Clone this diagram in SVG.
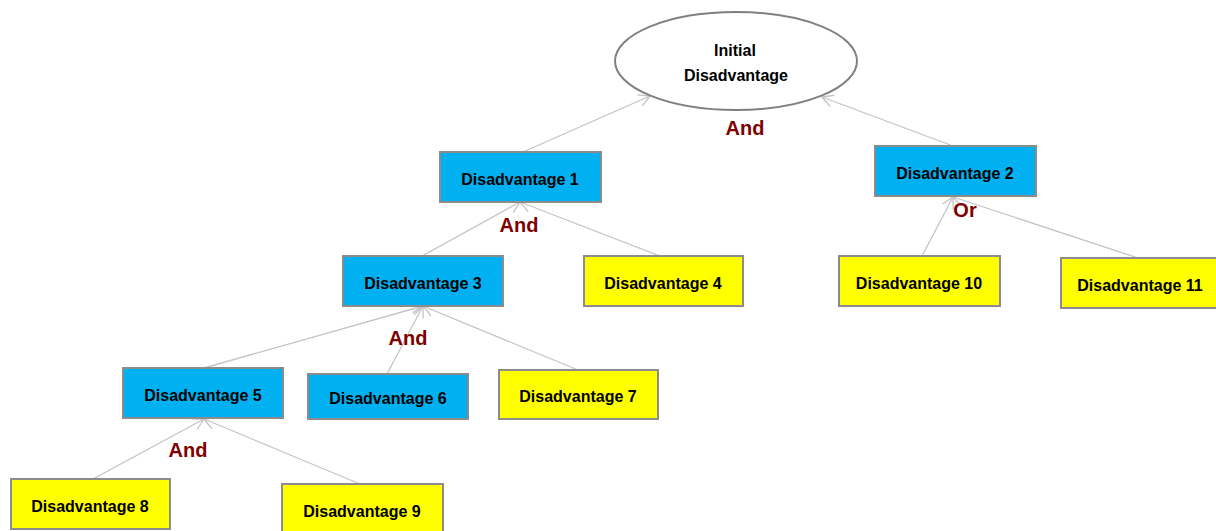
<svg xmlns="http://www.w3.org/2000/svg" width="1216" height="531" viewBox="0 0 1216 531">
<style>
  .blue{fill:#00B0F0;stroke:#8C8C8C;stroke-width:2}
  .yellow{fill:#FFFF00;stroke:#8C8C8C;stroke-width:2}
  .oval{fill:#FFFFFF;stroke:#808080;stroke-width:2}
  .t{font-family:"Liberation Sans",Arial,sans-serif;font-weight:bold;font-size:16px;fill:#000;text-anchor:middle}
  .op{font-family:"Liberation Sans",Arial,sans-serif;font-weight:bold;font-size:20px;fill:#7F0000;text-anchor:middle}
  .c{stroke:#C4C4C4;stroke-width:1.3;fill:none;marker-end:url(#arr)}
</style>
<defs>
  <marker id="arr" markerUnits="userSpaceOnUse" viewBox="-13 -7 14 14" markerWidth="14" markerHeight="14" refX="0" refY="0" orient="auto">
    <path d="M-11,-6 L0,0 L-11,6" fill="none" stroke="#C4C4C4" stroke-width="1.3"/>
  </marker>
</defs>
<rect width="1216" height="531" fill="#FFFFFF"/>
<g id="connectors">
  <line class="c" x1="523" y1="152" x2="650" y2="96"/>
  <line class="c" x1="953" y1="146" x2="822" y2="97"/>
  <line class="c" x1="422" y1="256" x2="520" y2="202"/>
  <line class="c" x1="660" y1="256" x2="520" y2="202"/>
  <line class="c" x1="922" y1="256" x2="953" y2="197"/>
  <line class="c" x1="1138" y1="258" x2="953" y2="197"/>
  <line class="c" x1="204" y1="368" x2="423" y2="306"/>
  <line class="c" x1="387" y1="374" x2="423" y2="306"/>
  <line class="c" x1="578" y1="370" x2="423" y2="306"/>
  <line class="c" x1="93" y1="479" x2="204" y2="419"/>
  <line class="c" x1="360" y1="484" x2="204" y2="419"/>
</g>
<g id="initial">
  <ellipse class="oval" cx="736" cy="61" rx="121" ry="49"/>
  <text class="t" x="735" y="56">Initial</text>
  <text class="t" x="736" y="81">Disadvantage</text>
</g>
<g id="d1"><rect class="blue" x="440" y="152" width="161" height="50"/><text class="t" x="520" y="185">Disadvantage 1</text></g>
<g id="d2"><rect class="blue" x="875" y="146" width="161" height="50"/><text class="t" x="955" y="179">Disadvantage 2</text></g>
<g id="d3"><rect class="blue" x="343" y="256" width="160" height="50"/><text class="t" x="423" y="289">Disadvantage 3</text></g>
<g id="d4"><rect class="yellow" x="584" y="256" width="159" height="50"/><text class="t" x="663" y="289">Disadvantage 4</text></g>
<g id="d10"><rect class="yellow" x="839" y="256" width="161" height="50"/><text class="t" x="919" y="289">Disadvantage 10</text></g>
<g id="d11"><rect class="yellow" x="1061" y="258" width="170" height="50"/><text class="t" x="1140" y="291">Disadvantage 11</text></g>
<g id="d5"><rect class="blue" x="123" y="368" width="160" height="50"/><text class="t" x="203" y="401">Disadvantage 5</text></g>
<g id="d6"><rect class="blue" x="308" y="374" width="160" height="45"/><text class="t" x="388" y="404">Disadvantage 6</text></g>
<g id="d7"><rect class="yellow" x="499" y="370" width="159" height="49"/><text class="t" x="578" y="402">Disadvantage 7</text></g>
<g id="d8"><rect class="yellow" x="11" y="479" width="159" height="50"/><text class="t" x="90" y="512">Disadvantage 8</text></g>
<g id="d9"><rect class="yellow" x="282" y="484" width="161" height="50"/><text class="t" x="362" y="517">Disadvantage 9</text></g>
<g id="labels">
  <text class="op" x="745" y="135">And</text>
  <text class="op" x="519" y="232">And</text>
  <text class="op" x="965" y="217">Or</text>
  <text class="op" x="408" y="345">And</text>
  <text class="op" x="188" y="457">And</text>
</g>
</svg>
